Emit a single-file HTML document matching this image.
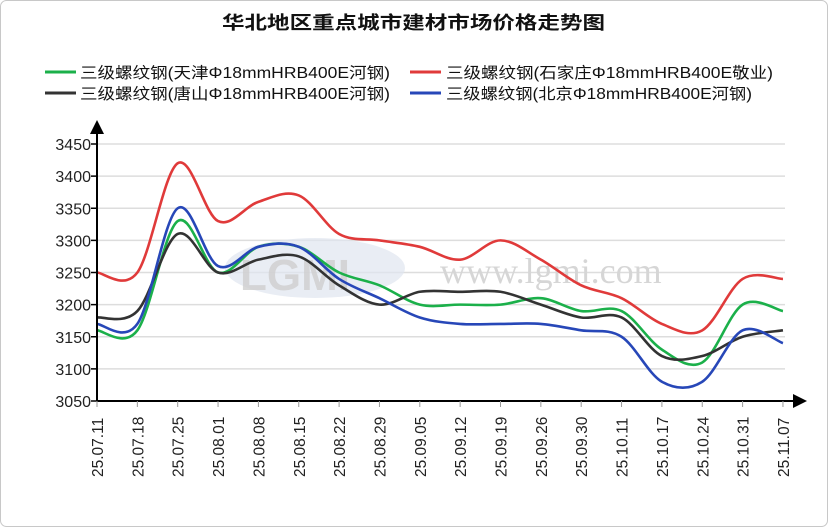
<!DOCTYPE html>
<html><head><meta charset="utf-8"><style>
body{margin:0;background:#fff}
text{font-family:"Liberation Sans","Noto Sans CJK SC",sans-serif}
text.wm{font-family:"Liberation Serif",serif}
</style></head><body>
<svg id="s" width="828" height="527" xmlns="http://www.w3.org/2000/svg">
<rect x="0.5" y="0.5" width="827" height="526" rx="6" fill="#fff" stroke="#c8c8c8"/>
<text x="222" y="29" textLength="383" lengthAdjust="spacingAndGlyphs" font-size="18" font-weight="bold" fill="#111">华北地区重点城市建材市场价格走势图</text>
<g font-size="15.5" fill="#111">
<line x1="45" y1="72" x2="76" y2="72" stroke="#1bb04a" stroke-width="3"/><text x="80" y="78" textLength="310" lengthAdjust="spacingAndGlyphs">三级螺纹钢(天津Φ18mmHRB400E河钢)</text>
<line x1="410" y1="72" x2="441" y2="72" stroke="#e03a3a" stroke-width="3"/><text x="446" y="78" textLength="327" lengthAdjust="spacingAndGlyphs">三级螺纹钢(石家庄Φ18mmHRB400E敬业)</text>
<line x1="45" y1="93" x2="76" y2="93" stroke="#333" stroke-width="3"/><text x="80" y="99" textLength="310" lengthAdjust="spacingAndGlyphs">三级螺纹钢(唐山Φ18mmHRB400E河钢)</text>
<line x1="410" y1="93" x2="441" y2="93" stroke="#2747b8" stroke-width="3"/><text x="446" y="99" textLength="306" lengthAdjust="spacingAndGlyphs">三级螺纹钢(北京Φ18mmHRB400E河钢)</text>
</g>
<g id="grid"></g>
<ellipse cx="315" cy="268" rx="90" ry="30" fill="#dfe6f0" opacity="0.7"/>
<text x="240" y="290" font-size="44" font-weight="bold" fill="#cfcfcf" opacity="0.8">LGMI</text>
<text class="wm" x="440" y="283" font-size="36" fill="#d6d6d6">www.lgmi.com</text>
<g id="lines"></g>
<line x1="97" y1="401" x2="97" y2="130" stroke="#000" stroke-width="2"/>
<polygon points="97,120 90,134 104,134" fill="#000"/>
<line x1="97" y1="401" x2="795" y2="401" stroke="#000" stroke-width="2"/>
<polygon points="807,401 793,394 793,408" fill="#000"/>
<g id="lab"></g>
</svg>
<script>
const ns="http://www.w3.org/2000/svg";
function el(t,a,p,txt){const e=document.createElementNS(ns,t);for(const k in a)e.setAttribute(k,a[k]);if(txt)e.textContent=txt;document.getElementById(p).appendChild(e);}
const Y=v=>401-(v-3050)*(257/400);
const X=i=>97+i*40.35;
for(let v=3050;v<=3450;v+=50){const y=Y(v);
 if(v>3050)el('line',{x1:97,y1:y,x2:785,y2:y,stroke:'#ddd','stroke-width':1.5},'grid');
 el('line',{x1:91,y1:y,x2:97,y2:y,stroke:'#000','stroke-width':1.5},'lab');
 el('text',{x:91,y:y+6,'text-anchor':'end','font-size':16,fill:'#222'},'lab',String(v));}
const d=["25.07.11","25.07.18","25.07.25","25.08.01","25.08.08","25.08.15","25.08.22","25.08.29","25.09.05","25.09.12","25.09.19","25.09.26","25.09.30","25.10.11","25.10.17","25.10.24","25.10.31","25.11.07"];
d.forEach((s,i)=>{const x=X(i);el('line',{x1:x,y1:401,x2:x,y2:407,stroke:'#999'},'lab');
 el('text',{x:0,y:0,transform:`translate(${x+6},${477}) rotate(-90)`,'font-size':15.5,fill:'#222'},'lab',s);});
const S=[
["#e03a3a",[3250,3250,3420,3330,3360,3370,3310,3300,3290,3270,3300,3270,3230,3210,3170,3160,3240,3240]],
["#1bb04a",[3160,3160,3330,3250,3290,3290,3250,3230,3200,3200,3200,3210,3190,3190,3130,3110,3200,3190]],
["#333333",[3180,3190,3310,3250,3270,3275,3230,3200,3220,3220,3220,3200,3180,3180,3120,3120,3150,3160]],
["#2747b8",[3170,3170,3350,3260,3290,3290,3240,3210,3180,3170,3170,3170,3160,3150,3080,3080,3160,3140]]];
S.forEach(([c,v])=>{const p=v.map((a,i)=>[X(i),Y(a)]);let s=`M${p[0][0]},${p[0][1]}`;
 for(let i=0;i<p.length-1;i++){const p0=p[Math.max(0,i-1)],p1=p[i],p2=p[i+1],p3=p[Math.min(p.length-1,i+2)];
 const t=1/3;
 s+=` C${p1[0]+(p2[0]-p0[0])*t/2},${p1[1]+(p2[1]-p0[1])*t/2} ${p2[0]-(p3[0]-p1[0])*t/2},${p2[1]-(p3[1]-p1[1])*t/2} ${p2[0]},${p2[1]}`;}
 el('path',{d:s,fill:'none',stroke:c,'stroke-width':2.6},'lines');});
</script>
</body></html>
